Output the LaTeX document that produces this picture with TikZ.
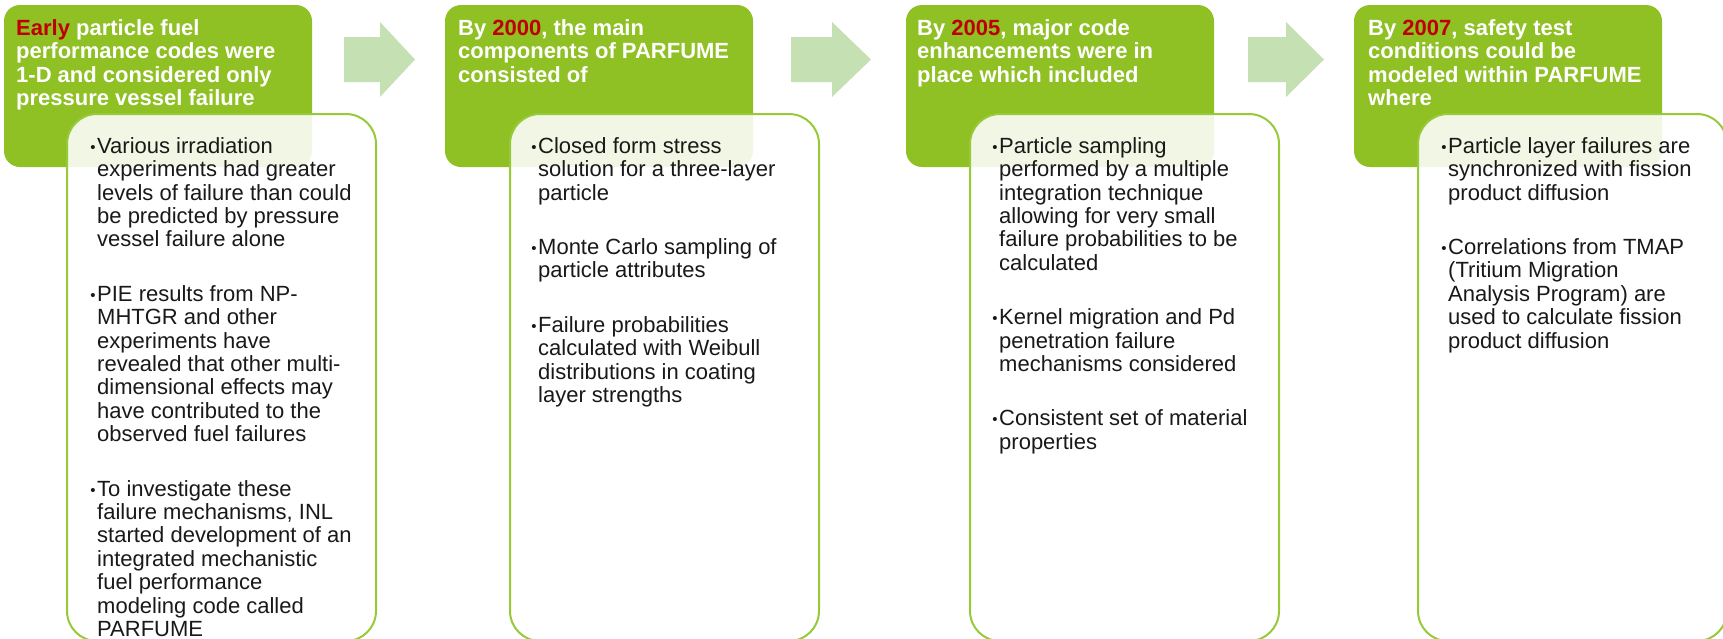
\documentclass[tikz,border=0pt]{standalone}
\usepackage{fontspec}
\setmainfont{Liberation Sans}
\definecolor{boxgreen}{RGB}{143,192,36}
\definecolor{linegreen}{RGB}{150,202,56}
\definecolor{arrowgreen}{RGB}{197,224,178}
\definecolor{yearred}{RGB}{192,0,0}
\definecolor{bodyink}{RGB}{25,25,25}
\newcommand{\yr}[1]{\textcolor{yearred}{#1}}
\newcommand{\bul}{\llap{\raisebox{1pt}{\fontsize{15}{15}\selectfont\textbullet}\hspace{1.5pt}}}
\newcommand{\fs}{\rule{0pt}{18pt}}
\tikzset{
  titlebox/.style={fill=boxgreen, rounded corners=16pt, anchor=north west, minimum width=308pt, minimum height=162pt, inner sep=0pt, outer sep=0pt},
  detailbox/.style={draw=linegreen, line width=2pt, fill=white, fill opacity=0.88, rounded corners=30pt, anchor=north west, minimum width=309pt, minimum height=527pt, inner sep=0pt, outer sep=0pt},
  titletext/.style={anchor=north west, inner sep=0pt, align=left, text=white, font=\fontsize{22}{23.4}\selectfont\bfseries},
  detailtext/.style={anchor=north west, inner sep=0pt, align=left, text=bodyink, font=\fontsize{22}{23.4}\selectfont},
  flowarrow/.style={fill=arrowgreen},
}
\begin{document}
\begin{tikzpicture}[x=1pt,y=-1pt]
\useasboundingbox (0,0) rectangle (1723,638);
% title boxes
\node[titlebox] (g1) at (4,5) {};
\node[titlebox] (g2) at (445,5) {};
\node[titlebox] (g3) at (906,5) {};
\node[titlebox] (g4) at (1354,5) {};
% arrows
\fill[flowarrow] (344,37) -- (380,37) -- (380,22) -- (415,59.5) -- (380,97) -- (380,82) -- (344,82) -- cycle;
\fill[flowarrow] (791,37) -- (832,37) -- (832,22) -- (871,59.5) -- (832,97) -- (832,82) -- (791,82) -- cycle;
\fill[flowarrow] (1248,37) -- (1286,37) -- (1286,22) -- (1324,59.5) -- (1286,97) -- (1286,82) -- (1248,82) -- cycle;
% title texts
\node[titletext] (t1) at (16,17) {\fs\yr{Early} particle fuel\\performance codes were\\1-D and considered only\\pressure vessel failure};
\node[titletext] (t2) at (458,17) {\fs By \yr{2000}, the main\\components of PARFUME\\consisted of};
\node[titletext] (t3) at (917,17) {\fs By \yr{2005}, major code\\enhancements were in\\place which included};
\node[titletext] (t4) at (1368,17) {\fs By \yr{2007}, safety test\\conditions could be\\modeled within PARFUME\\where};
% detail boxes
\node[detailbox] (w1) at (67,114) {};
\node[detailbox] (w2) at (510,114) {};
\node[detailbox] (w3) at (970,114) {};
\node[detailbox] (w4) at (1418,114) {};
% detail texts
\node[detailtext] (d1) at (97,135) {\fs\bul Various irradiation\\experiments had greater\\levels of failure than could\\be predicted by pressure\\vessel failure alone\\[31pt]
\bul PIE results from NP-\\MHTGR and other\\experiments have\\revealed that other multi-\\dimensional effects may\\have contributed to the\\observed fuel failures\\[31pt]
\bul To investigate these\\failure mechanisms, INL\\started development of an\\integrated mechanistic\\fuel performance\\modeling code called\\PARFUME};
\node[detailtext] (d2) at (538,135) {\fs\bul Closed form stress\\solution for a three-layer\\particle\\[31pt]
\bul Monte Carlo sampling of\\particle attributes\\[31pt]
\bul Failure probabilities\\calculated with Weibull\\distributions in coating\\layer strengths};
\node[detailtext] (d3) at (999,135) {\fs\bul Particle sampling\\performed by a multiple\\integration technique\\allowing for very small\\failure probabilities to be\\calculated\\[31pt]
\bul Kernel migration and Pd\\penetration failure\\mechanisms considered\\[31pt]
\bul Consistent set of material\\properties};
\node[detailtext] (d4) at (1448,135) {\fs\bul Particle layer failures are\\synchronized with fission\\product diffusion\\[31pt]
\bul Correlations from TMAP\\(Tritium Migration\\Analysis Program) are\\used to calculate fission\\product diffusion};
\end{tikzpicture}
\end{document}
